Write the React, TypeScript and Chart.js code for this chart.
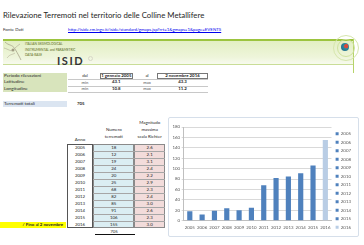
import React, { useEffect, useRef } from "react";
import { Chart, registerables } from "chart.js";
Chart.register(...registerables);

const years = ["2005", "2006", "2007", "2008", "2009", "2010", "2011", "2012", "2013", "2014", "2015", "2016"];
const counts = [18, 12, 19, 24, 20, 25, 68, 82, 85, 91, 106, 155];
const magnitudes = ["2.6", "2.1", "3.1", "2.4", "2.2", "2.9", "2.3", "2.4", "3.0", "2.6", "2.3", "3.0"];
const totalQuakes = "705";
const yMin = 0;
const yMax = 180;
const yStep = 20;
const barColor = "#4f81bd";
const lastBarColor = "#b9cde5";

const FONT = "Lato, 'Open Sans', sans-serif";

type TProps = {
  x: number;
  y: number;
  size?: number;
  bold?: boolean;
  color?: string;
  align?: "left" | "center" | "right";
  w?: number;
  children: React.ReactNode;
  style?: React.CSSProperties;
};

function T({ x, y, size = 4.8, bold, color = "#262626", align = "left", w, children, style }: TProps) {
  const lh = size * 1.25;
  let left = x;
  if (align === "center" && w) left = x - w / 2;
  if (align === "right" && w) left = x - w;
  return (
    <div
      style={{
        position: "absolute",
        left,
        top: y - lh / 2,
        width: w,
        textAlign: align,
        fontSize: size,
        lineHeight: lh + "px",
        fontWeight: bold ? 700 : 400,
        color,
        whiteSpace: "nowrap",
        fontFamily: FONT,
        ...style,
      }}
    >
      {children}
    </div>
  );
}

function Box({ x, y, w, h, style }: { x: number; y: number; w: number; h: number; style?: React.CSSProperties }) {
  return <div style={{ position: "absolute", left: x, top: y, width: w, height: h, boxSizing: "border-box", ...style }} />;
}

function BarChart() {
  const ref = useRef<HTMLCanvasElement | null>(null);
  useEffect(() => {
    if (!ref.current) return;
    const colors = years.map((_, i) => (i === years.length - 1 ? lastBarColor : barColor));
    const tickFont = { size: 4.4, family: FONT };
    const chart = new Chart(ref.current, {
      type: "bar",
      data: {
        labels: years,
        datasets: [
          {
            label: "Numero terremoti",
            data: counts,
            backgroundColor: colors,
            borderWidth: 0,
            barPercentage: 0.42,
            categoryPercentage: 1,
          },
        ],
      },
      options: {
        animation: false,
        responsive: false,
        maintainAspectRatio: false,
        layout: { padding: { top: 9, left: 2, right: 0, bottom: 1 } },
        plugins: {
          tooltip: { enabled: false },
          legend: {
            position: "right",
            labels: {
              boxWidth: 3,
              boxHeight: 3,
              padding: 4.1,
              color: "#595959",
              font: tickFont,
              generateLabels: () =>
                years.map((y, i) => ({
                  text: y,
                  fillStyle: colors[i],
                  strokeStyle: colors[i],
                  lineWidth: 0,
                  hidden: false,
                  index: i,
                  datasetIndex: 0,
                  fontColor: "#595959",
                })),
            },
          },
        },
        scales: {
          x: {
            grid: { display: false, drawTicks: false },
            border: { color: "#bfbfbf" },
            ticks: { font: tickFont, color: "#595959", padding: 4, maxRotation: 0, autoSkip: false },
          },
          y: {
            min: yMin,
            max: yMax,
            ticks: { stepSize: yStep, font: tickFont, color: "#595959", padding: 1.5 },
            grid: { color: "#d9d9d9", tickLength: 2 },
            border: { color: "#bfbfbf" },
          },
        },
      },
    });
    return () => chart.destroy();
  }, []);
  return <canvas ref={ref} width={192} height={117} style={{ position: "absolute", left: 169, top: 118, width: 192, height: 117 }} />;
}

export default function App() {
  const rowTop = 144;
  const rowH = 7.03;
  const colA = [66.7, 93.3];
  const colB = [93.3, 134.3];
  const colC = [134.3, 165];
  return (
    <div style={{ position: "absolute", left: 0, top: 0, width: 364, height: 245, background: "#fff", overflow: "hidden", fontFamily: FONT }}>
      {/* Title */}
      <T x={3} y={16} size={7.8} color="#262626">Rilevazione Terremoti nel territorio delle Colline Metallifere</T>
      <T x={3} y={29.5} size={4.4}>Fonte Dati</T>
      <T x={68} y={29.5} size={4.4} color="#0000ee" style={{ textDecoration: "underline" }}>
        http://iside.rm.ingv.it/iside/standard/gmaps.jsp?rrt=1&amp;gmaps=1&amp;page=EVENTS
      </T>

      {/* Banner */}
      <Box x={3} y={39} w={351} h={26} style={{ background: "linear-gradient(#e3efc4, #eef5da 70%, #f7faee)", borderTop: "2px solid #9cc43f", borderBottom: "1px solid #c9dd97" }} />
      <Box x={353} y={39} w={1} h={34} style={{ background: "#b6d36a" }} />
      <svg style={{ position: "absolute", left: 3, top: 40, width: 20, height: 22 }} viewBox="0 0 20 22">
        <path d="M2 2 C6 6, 9 4, 12 9 S16 16, 18 20" stroke="#a8a48a" strokeWidth="0.8" fill="none" />
        <path d="M1 8 C5 9, 8 12, 10 10 S14 6, 17 4" stroke="#b5b19a" strokeWidth="0.7" fill="none" />
        <path d="M4 18 C7 14, 9 15, 12 13" stroke="#b5b19a" strokeWidth="0.6" fill="none" />
        <circle cx="10" cy="10" r="1.5" fill="#a09c82" />
      </svg>
      <T x={25} y={44} size={3.2} color="#5b6b22">ITALIAN SEISMOLOGICAL</T>
      <T x={25} y={49.5} size={3.2} color="#5b6b22">INSTRUMENTAL and PARAMETRIC</T>
      <T x={25} y={55} size={3.2} color="#5b6b22">DATA-BASE</T>
      <T x={57} y={60.5} size={11} bold color="#333" style={{ letterSpacing: 1.6 }}>ISID</T>
      <div style={{ position: "absolute", left: 88, top: 56, width: 5, height: 5, borderRadius: "50%", border: "1px solid #d8d8c8", boxSizing: "border-box" }} />
      {/* Globe */}
      <div style={{ position: "absolute", left: 333, top: 35, width: 24, height: 24, borderRadius: "50%", border: "1px solid #d6e6ad" }} />
      <div style={{ position: "absolute", left: 337, top: 39, width: 16, height: 16, borderRadius: "50%", border: "1px solid #cfe29e" }} />
      <div style={{ position: "absolute", left: 341, top: 43, width: 8, height: 8, borderRadius: "50%", background: "radial-gradient(circle at 65% 40%, #d94a3a 0 25%, #2d8a9a 35%, #1d5f8a 100%)" }} />

      {/* Info table */}
      <Box x={3} y={72.5} w={64} h={19.5} style={{ background: "#d8e4bc" }} />
      {[79, 85.5, 92].map((y) => (
        <Box key={y} x={68} y={y} w={140} h={0.6} style={{ background: "#c8c8c8" }} />
      ))}
      <T x={4} y={75.7} size={4.6}>Periodo rilevazioni</T>
      <T x={4} y={82.2} size={4.6}>Latitudine</T>
      <T x={4} y={88.7} size={4.6}>Longitudine</T>
      <T x={85} y={75.7} w={20} align="center" size={4.4}>dal</T>
      <Box x={100} y={72.8} w={32.5} h={6} style={{ border: "0.8px solid #777" }} />
      <T x={116.3} y={75.7} w={34} align="center" size={4.4} bold>1 gennaio 2005</T>
      <T x={147} y={75.7} w={20} align="center" size={4.4}>al</T>
      <Box x={157} y={72.8} w={51} h={6} style={{ border: "0.8px solid #777" }} />
      <T x={182.5} y={75.7} w={50} align="center" size={4.4} bold>2 novembre 2016</T>
      <T x={85} y={82.2} w={20} align="center" size={4.2} color="#555">min</T>
      <T x={116.3} y={82.2} w={30} align="center" size={4.4} bold>43.1</T>
      <T x={147} y={82.2} w={20} align="center" size={4.2} color="#555">max</T>
      <T x={182.5} y={82.2} w={30} align="center" size={4.4} bold>43.3</T>
      <T x={85} y={88.7} w={20} align="center" size={4.2} color="#555">min</T>
      <T x={116.3} y={88.7} w={30} align="center" size={4.4} bold>10.8</T>
      <T x={147} y={88.7} w={20} align="center" size={4.2} color="#555">max</T>
      <T x={182.5} y={88.7} w={30} align="center" size={4.4} bold>11.2</T>

      <Box x={3} y={101} w={64} h={6.2} style={{ background: "#dbe5f1" }} />
      <T x={4} y={104} size={4.6}>Terremoti totali</T>
      <T x={77} y={104} size={4.4} bold>{totalQuakes}</T>

      {/* Data table headers */}
      <T x={80} y={139.5} w={26} align="center" size={4.4}>Anno</T>
      <T x={113.8} y={130} w={40} align="center" size={4.4}>Numero</T>
      <T x={113.8} y={137} w={40} align="center" size={4.4}>terremoti</T>
      <T x={149.7} y={122.5} w={40} align="center" size={4.4}>Magnitudo</T>
      <T x={149.7} y={129.5} w={40} align="center" size={4.4}>massima</T>
      <T x={149.7} y={136.5} w={40} align="center" size={4.4}>scala Richter</T>

      {/* Data table body */}
      <Box x={colA[0]} y={rowTop} w={colA[1] - colA[0]} h={rowH * 12} style={{ background: "#fff", border: "0.8px solid #555" }} />
      <Box x={colB[0]} y={rowTop} w={colB[1] - colB[0]} h={rowH * 12} style={{ background: "#dbeef3", border: "0.8px solid #8a8a8a" }} />
      <Box x={colC[0]} y={rowTop} w={colC[1] - colC[0]} h={rowH * 12} style={{ background: "#f2dcdb", border: "0.8px solid #8a8a8a" }} />
      {years.slice(1).map((_, i) => (
        <Box key={"l" + i} x={colB[0]} y={rowTop + (i + 1) * rowH} w={colC[1] - colB[0]} h={0.5} style={{ background: "#a6a6a6" }} />
      ))}
      {years.map((y, i) => (
        <React.Fragment key={y}>
          <T x={(colA[0] + colA[1]) / 2} y={rowTop + (i + 0.5) * rowH} w={26} align="center" size={4.4}>{y}</T>
          <T x={(colB[0] + colB[1]) / 2} y={rowTop + (i + 0.5) * rowH} w={30} align="center" size={4.4}>{counts[i]}</T>
          <T x={(colC[0] + colC[1]) / 2} y={rowTop + (i + 0.5) * rowH} w={30} align="center" size={4.4}>{magnitudes[i]}</T>
        </React.Fragment>
      ))}
      <Box x={0} y={rowTop + 11 * rowH + 0.5} w={66} h={rowH - 0.8} style={{ background: "#ffff00" }} />
      <T x={63} y={rowTop + 11.5 * rowH} w={60} align="right" size={4.4} bold>/ Fino al 2 novembre</T>
      <T x={114} y={231.5} w={30} align="center" size={4.4}>{totalQuakes}</T>
      <Box x={95} y={234.3} w={40} h={1} style={{ background: "#111" }} />

      {/* Chart */}
      <Box x={168} y={117} w={191} h={120} style={{ border: "1px solid #d6dfea", borderRadius: 2, background: "#fff" }} />
      <BarChart />
    </div>
  );
}
